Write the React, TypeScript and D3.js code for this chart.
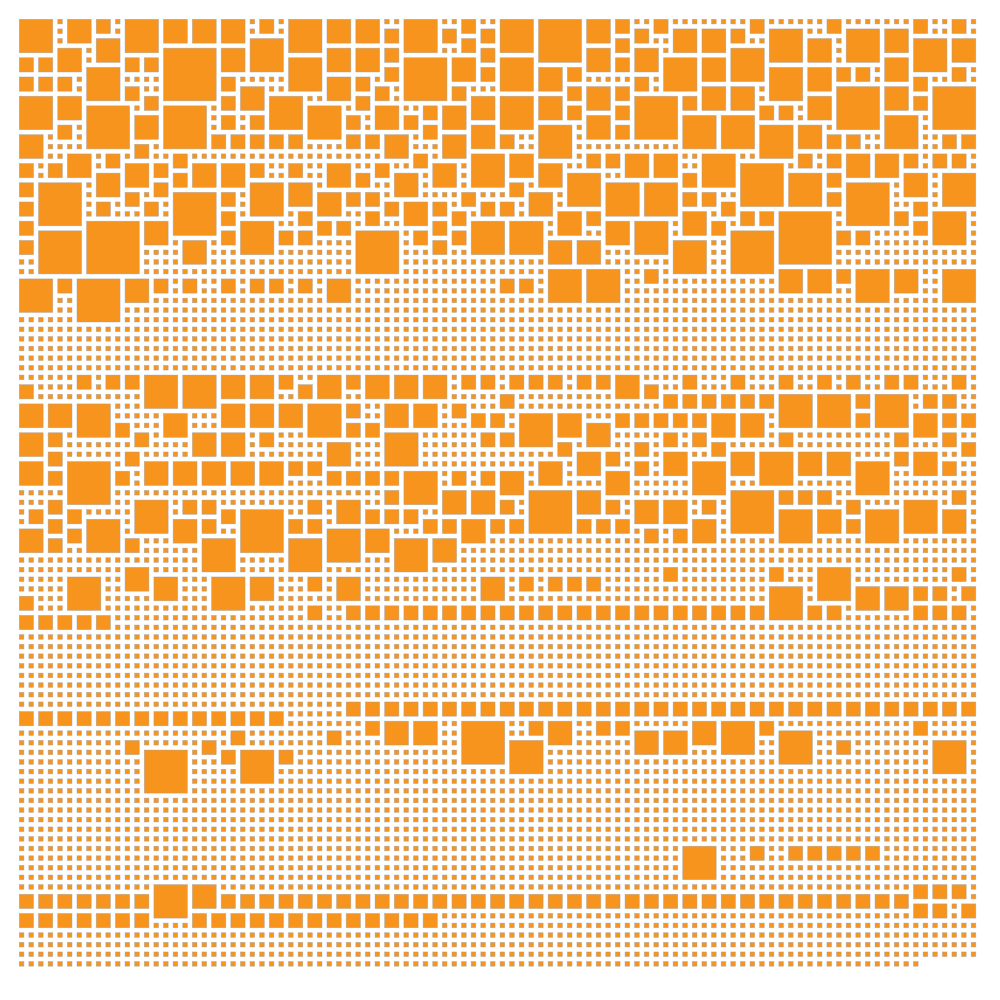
import React from "react";
import * as d3 from "d3";

// Each row: column, tile span, column, tile span ... Every free grid cell holds a single unit tile.
const GRID_COLUMNS = 100;
const GRID_ROWS = 99;
const LAST_ROW_COLUMNS = 94;

const rowsTop: [number, number[]][] = [
  [0, [0,4,5,3,8,2,11,4,15,3,18,3,21,3,25,2,28,4,32,3,35,3,40,4,46,2,50,4,54,5,59,3,62,2,66,2,76,2,84,2,93,2,97,2]],
  [1, [38,2,44,2,48,2,64,2,68,3,71,3,74,2,78,4,86,4,90,3]],
  [2, [8,3,24,4,46,2,62,2,82,3,93,4,97,3]],
  [3, [4,3,15,6,21,3,32,3,35,3,38,2,48,2,59,3,64,3,74,4]],
  [4, [0,2,2,2,11,2,13,2,28,4,40,5,45,3,50,4,62,2,67,4,71,3,90,3]],
  [5, [7,4,38,2,48,2,54,3,57,2,78,4,82,3,85,2,87,2,97,2]],
  [6, [0,2,2,2,4,2,21,2,32,3,35,2,64,2,93,2]],
  [7, [11,2,23,3,37,2,45,2,57,2,59,3,62,2,71,3,74,3,85,5,90,3,95,5]],
  [8, [0,4,4,3,13,2,21,2,26,4,35,2,47,3,50,4,54,3,64,5,69,2,82,3,93,2]],
  [9, [7,5,15,5,30,4,37,3,42,2,44,3,57,2,62,2,77,2,79,2]],
  [10, [12,3,21,2,24,2,34,2,40,2,59,3,69,4,73,4,90,4]],
  [11, [4,2,42,2,47,3,54,4,62,2,77,4,81,3]],
  [12, [0,3,20,2,22,2,24,2,26,2,28,2,34,2,36,2,38,3,44,3,50,2,84,2,86,2,96,2,98,2]],
  [13, [12,2]],
  [14, [5,3,9,2,16,2,41,2,47,4,51,3,59,2,61,2,63,3,66,3,71,4,81,2,84,2,86,3,89,3,92,2,95,2,97,2]],
  [15, [0,2,3,2,11,3,14,2,18,3,21,3,24,2,28,2,32,3,37,2,43,3,54,3,75,5]],
  [16, [8,3,16,2,35,2,39,3,57,4,69,2,80,4,84,2,92,3,96,4]],
  [17, [0,2,2,5,14,2,24,4,28,3,51,2,61,4,65,4,86,5]],
  [18, [11,2,16,5,21,2,31,3,34,2,36,2,46,2,53,3,69,2,71,2,84,2]],
  [19, [0,2,8,2,13,2,38,2,40,3,43,2,48,2,50,2,73,2,93,2]],
  [20, [21,2,29,2,36,2,45,2,56,3,59,2,69,3,75,2,77,2,79,6,91,2,95,4]],
  [21, [0,2,7,6,13,3,23,4,31,2,33,2,43,2,47,4,51,4,61,3,64,4,72,2,93,2]],
  [22, [2,5,21,2,27,2,29,2,35,5,41,2,45,2,74,5,85,2,87,2]],
  [23, [0,2,17,3,43,2,55,3,58,3,68,4]],
  [26, [55,4,59,4,65,2,79,3,82,3,85,2,87,4,91,3,96,4]],
  [27, [0,4,4,2,6,5,11,3,14,2,17,2,21,2,24,2,26,2,29,2,32,3,50,2,52,2]],
];

const rowsMiddle: [number, number[]][] = [
  [37, [6,2,9,2,11,2,13,4,17,4,21,3,24,3,27,2,31,3,34,2,36,3,39,3,42,3,46,2,48,2,51,2,53,2,55,2,58,2,60,2,62,3,69,2,74,2,79,2,83,2,86,2,90,2,92,2,97,2]],
  [38, [0,2,29,2,65,2]],
  [39, [50,2,67,2,69,2,71,2,73,2,75,2,77,2,79,4,83,4,87,2,89,4,94,2,96,2]],
  [40, [0,3,3,3,6,4,21,3,24,3,27,3,30,4,34,2,38,3,41,3,45,2]],
  [41, [15,3,47,2,49,2,52,4,56,3,62,2,64,2,66,2,68,2,70,2,72,3,75,3,87,2,93,3,96,2,98,2]],
  [42, [10,2,34,2,36,2,59,3]],
  [43, [0,3,3,2,12,2,18,3,21,3,25,2,38,4,48,2,50,2,67,2,70,2,79,2,91,2,96,2]],
  [44, [32,3,56,2,64,2,72,2,98,2]],
  [45, [3,2,11,2,58,3,61,2,67,3,74,3,77,4,81,3,84,3,91,2,93,3]],
  [46, [0,3,5,5,13,3,16,3,19,3,22,3,25,3,28,2,30,2,54,3,64,2,70,4,87,4,96,2]],
  [47, [3,2,10,2,32,2,34,2,36,2,38,2,40,4,45,2,48,2,50,3,61,3]],
  [49, [38,2,44,3,47,3,53,5,58,3,74,5,79,2,81,2,83,2,97,2]],
  [50, [3,2,12,4,17,2,19,2,30,2,33,3,50,2,61,2,64,3,67,3,71,2,86,2,92,4]],
  [51, [1,2,5,2,21,2,23,5,36,2,38,2,40,2,79,4,83,3,88,4,96,3]],
  [52, [3,2,7,4,16,3,19,2,28,2,30,2,42,2,44,2,46,3,49,2,51,2,58,2,60,2,62,2,70,3,86,2]],
  [53, [0,3,5,2,32,4,36,3,65,2,68,2]],
  [54, [3,2,11,2,19,4,28,4,39,4,43,3]],
  [57, [11,3,67,2,78,2,83,4,97,2]],
  [58, [5,4,14,3,20,4,24,3,30,2,33,3,48,3,52,2,55,2,57,2,59,2]],
  [59, [78,4,87,3,90,3,93,2,95,2,98,2]],
  [60, [0,2]],
  [61, [30,2,34,2,36,2,38,2,40,2,42,2,44,2,46,2,48,2,50,2,52,2,54,2,56,2,58,2,60,2,62,2,64,2,66,2,68,2,70,2,72,2,74,2,76,2,82,2,84,2,93,2,95,2,97,2]],
  [62, [0,2,2,2,4,2,6,2,8,2]],
];

const rowsBottom: [number, number[]][] = [
  [71, [34,2,36,2,38,2,40,2,42,2,44,2,46,2,48,2,50,2,52,2,54,2,56,2,58,2,60,2,62,2,64,2,66,2,68,2,70,2,72,2,74,2,76,2,78,2,80,2,82,2,84,2,86,2,88,2,90,2,92,2,94,2,96,2,98,2]],
  [72, [0,2,2,2,4,2,6,2,8,2,10,2,12,2,14,2,16,2,18,2,20,2,22,2,24,2,26,2]],
  [73, [36,2,38,3,41,3,46,5,53,2,55,3,60,2,62,2,70,3,73,4,77,2,93,2]],
  [74, [22,2,32,2,64,3,67,3,79,4]],
  [75, [11,2,19,2,51,4,85,2,95,4]],
  [76, [13,5,21,2,23,4,27,2]],
  [86, [69,4,76,2,80,2,82,2,84,2,86,2,88,2]],
  [90, [14,4,18,3,93,2,95,2,97,2]],
  [91, [0,2,2,2,4,2,6,2,8,2,10,2,12,2,21,2,23,2,25,2,27,2,29,2,31,2,33,2,35,2,37,2,39,2,41,2,43,2,45,2,47,2,49,2,51,2,53,2,55,2,57,2,59,2,61,2,63,2,65,2,67,2,69,2,71,2,73,2,75,2,77,2,79,2,81,2,83,2,85,2,87,2,89,2,91,2]],
  [92, [93,2,95,2,98,2]],
  [93, [0,2,2,2,4,2,6,2,8,2,10,2,12,2,18,2,20,2,22,2,24,2,26,2,28,2,30,2,32,2,34,2,36,2,38,2,40,2,42,2]],
];

type Tile = { col: number; row: number; span: number };

function buildTiles(): Tile[] {
  const tiles: Tile[] = [];
  const taken = new Set<string>();
  for (const [row, list] of [...rowsTop, ...rowsMiddle, ...rowsBottom]) {
    for (let i = 0; i < list.length; i += 2) {
      const col = list[i];
      const span = list[i + 1];
      tiles.push({ col, row, span });
      for (const dc of d3.range(span)) {
        for (const dr of d3.range(span)) taken.add(`${col + dc}:${row + dr}`);
      }
    }
  }
  for (const row of d3.range(GRID_ROWS)) {
    const width = row === GRID_ROWS - 1 ? LAST_ROW_COLUMNS : GRID_COLUMNS;
    for (const col of d3.range(width)) {
      if (!taken.has(`${col}:${row}`)) tiles.push({ col, row, span: 1 });
    }
  }
  return tiles;
}

const PITCH = 9.615;
const OUTER_GAP = 4.4;
const STROKE = 0.6;
const ORIGIN = 19;

export default function App() {
  const x = d3.scaleLinear().domain([0, GRID_COLUMNS]).range([ORIGIN, ORIGIN + GRID_COLUMNS * PITCH]);
  const y = d3.scaleLinear().domain([0, GRID_ROWS]).range([ORIGIN, ORIGIN + GRID_ROWS * PITCH]);
  const tiles = buildTiles();
  return (
    <svg width={1000} height={1000} style={{ position: "absolute", left: 0, top: 0, background: "#fff" }}>
      {tiles.map((t) => (
        <rect
          key={`${t.col}-${t.row}`}
          x={x(t.col) + STROKE / 2}
          y={y(t.row) + STROKE / 2}
          width={x(t.span) - x(0) - OUTER_GAP - STROKE}
          height={y(t.span) - y(0) - OUTER_GAP - STROKE}
          fill="#F7941E"
          stroke="#A0A0A0"
          strokeOpacity={0.7}
          strokeWidth={STROKE}
        />
      ))}
    </svg>
  );
}
